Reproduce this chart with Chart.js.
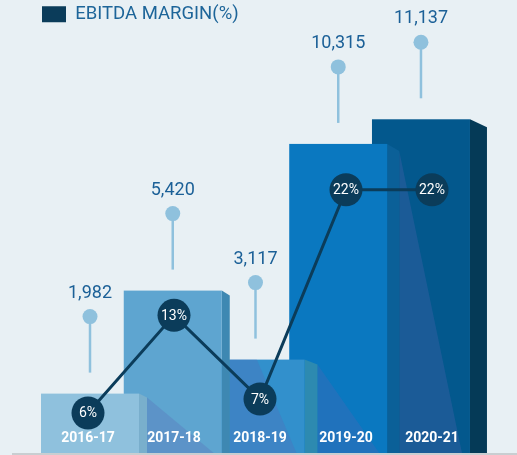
<!DOCTYPE html>
<html>
<head>
<meta charset="utf-8">
<script src="https://cdn.jsdelivr.net/npm/chart.js@4/dist/chart.umd.min.js"></script>
<style>
html,body{margin:0;padding:0;background:#e8f0f4;}
#wrap{width:517px;height:455px;position:relative;}
</style>
</head>
<body>
<div id="wrap"><canvas id="c"></canvas></div>
<script>
// ---- data ----
const YEARS = ['2016-17', '2017-18', '2018-19', '2019-20', '2020-21'];
const REVENUE = [1982, 5420, 3117, 10315, 11137];
const EBITDA_MARGIN = [6, 13, 7, 22, 22];
const LEGEND_LABEL = 'EBITDA MARGIN(%)';

// ---- styles ----
const BG = '#e8f0f4';
const FRONT_COLORS = ['#8fc1dd', '#5ea5d0', '#3290cc', '#0a78c0', '#03588d'];
const SIDE_COLORS = ['#79afcc', '#3e88b2', '#2d8ab0', '#0b6098', '#053a57'];
const SIDE_DEPTH = [8, 8, 13, 12, 17];
const SIDE_SLANT = [4, 5, 5, 7, 8];
const SHADOW = 'rgba(90,100,180,0.28)';
const NAVY = '#0b3c5a';
const PIN = '#8fc1dd';
const VALUE_COLOR = '#1b6097';
const FONT = 'Roboto';

const bgPlugin = {
  id: 'bg',
  beforeDraw(chart) {
    const ctx = chart.ctx;
    ctx.save();
    ctx.fillStyle = BG;
    ctx.fillRect(0, 0, chart.width, chart.height);
    ctx.restore();
  },
  beforeDatasetsDraw(chart) {
    const ctx = chart.ctx;
    const b = chart.chartArea.bottom;
    ctx.save();
    ctx.fillStyle = '#c9ced1';
    ctx.fillRect(12, b, chart.width - 12, 2);
    ctx.restore();
  }
};

const bars3d = {
  id: 'bars3d',
  beforeDatasetDraw(chart, args) {
    if (args.meta.type !== 'bar') return;
    const ctx = chart.ctx;
    const els = args.meta.data;
    ctx.save();
    for (let i = els.length - 1; i >= 0; i--) {
      const {x, y, base, width} = els[i].getProps(['x', 'y', 'base', 'width'], true);
      const l = x - width / 2, r = x + width / 2;
      const d = SIDE_DEPTH[i], s = SIDE_SLANT[i];
      if (i < els.length - 1) {
        const n = els[i + 1].getProps(['x', 'y', 'base', 'width'], true);
        const nl = n.x - n.width / 2, nr = n.x + n.width / 2;
        ctx.save();
        ctx.beginPath();
        ctx.rect(nl, n.y, n.width, n.base - n.y);
        ctx.clip();
        ctx.fillStyle = SHADOW;
        ctx.beginPath();
        ctx.moveTo(r + d, y + s);
        ctx.lineTo(nr - 8, base);
        ctx.lineTo(r + d, base);
        ctx.closePath();
        ctx.fill();
        ctx.restore();
      }
      ctx.fillStyle = SIDE_COLORS[i];
      ctx.beginPath();
      ctx.moveTo(r, y);
      ctx.lineTo(r + d, y + s);
      ctx.lineTo(r + d, base);
      ctx.lineTo(r, base);
      ctx.closePath();
      ctx.fill();
      ctx.fillStyle = FRONT_COLORS[i];
      ctx.fillRect(l, y, width, base - y);
    }
    ctx.restore();
    return false;
  }
};

const labelsPlugin = {
  id: 'labels',
  afterDatasetsDraw(chart) {
    const ctx = chart.ctx;
    ctx.save();
    const barMeta = chart.getDatasetMeta(1);
    barMeta.data.forEach((el, i) => {
      const {x, y} = el.getProps(['x', 'y'], true);
      const cy = y - 77;
      ctx.strokeStyle = PIN;
      ctx.lineWidth = 2.5;
      ctx.beginPath();
      ctx.moveTo(x, cy);
      ctx.lineTo(x, y - 21);
      ctx.stroke();
      ctx.fillStyle = PIN;
      ctx.beginPath();
      ctx.arc(x, cy, 7.5, 0, Math.PI * 2);
      ctx.fill();
      ctx.fillStyle = VALUE_COLOR;
      ctx.font = '18px ' + FONT;
      ctx.textAlign = 'center';
      ctx.textBaseline = 'alphabetic';
      ctx.fillText(REVENUE[i].toLocaleString('en-US'), x, cy - 19);
    });
    const lineMeta = chart.getDatasetMeta(0);
    lineMeta.data.forEach((el, i) => {
      const {x, y} = el.getProps(['x', 'y'], true);
      ctx.fillStyle = '#ffffff';
      ctx.font = '14px ' + FONT;
      ctx.textAlign = 'center';
      ctx.textBaseline = 'middle';
      ctx.fillText(EBITDA_MARGIN[i] + '%', x, y + 1);
    });
    const xs = chart.scales.x;
    ctx.fillStyle = '#ffffff';
    ctx.font = 'bold 14px ' + FONT;
    ctx.textAlign = 'center';
    ctx.textBaseline = 'middle';
    YEARS.forEach((lab, i) => {
      ctx.fillText(lab, xs.getPixelForValue(i), chart.chartArea.bottom - 15);
    });
    ctx.restore();
  }
};

new Chart(document.getElementById('c'), {
  type: 'bar',
  data: {
    labels: YEARS,
    datasets: [
      {
        type: 'line',
        label: LEGEND_LABEL,
        data: EBITDA_MARGIN,
        xAxisID: 'x',
        yAxisID: 'y1',
        order: 0,
        borderColor: NAVY,
        backgroundColor: NAVY,
        borderWidth: 3,
        pointRadius: 16.5,
        pointHoverRadius: 16.5,
        pointBackgroundColor: NAVY,
        pointBorderWidth: 0,
        tension: 0,
        clip: false
      },
      {
        type: 'bar',
        label: 'Revenue',
        data: REVENUE.map((v, i) => ({x: i, y: v})),
        xAxisID: 'x2',
        yAxisID: 'y',
        order: 1,
        grouped: false,
        categoryPercentage: 1,
        barPercentage: 50,
        maxBarThickness: 98,
        backgroundColor: FRONT_COLORS
      }
    ]
  },
  options: {
    responsive: true,
    maintainAspectRatio: false,
    animation: false,
    events: [],
    layout: {autoPadding: false, padding: {left: 37, right: 42, top: 0, bottom: 2}},
    plugins: {
      tooltip: {enabled: false},
      legend: {
        position: 'top',
        align: 'start',
        labels: {
          boxWidth: 24,
          boxHeight: 16,
          padding: 5,
          color: '#1d6599',
          font: {family: FONT, size: 18.5},
          generateLabels() {
            return [{text: LEGEND_LABEL, fillStyle: NAVY, strokeStyle: NAVY, lineWidth: 0, hidden: false, datasetIndex: 0, fontColor: '#1d6599'}];
          }
        }
      }
    },
    scales: {
      x: {type: 'category', labels: YEARS, offset: true, display: false},
      x2: {type: 'linear', min: -0.544, max: 4.653, offset: false, bounds: 'data', grace: 0, display: false},
      y: {
        type: 'linear', min: 0, max: 14000, display: true,
        ticks: {display: false}, grid: {display: false}, border: {display: false},
        afterFit(s) { s.width = 8; }
      },
      y1: {type: 'linear', min: 3.13, max: 33.2, display: false, position: 'right'}
    }
  },
  plugins: [bgPlugin, bars3d, labelsPlugin]
});
</script>
</body>
</html>
